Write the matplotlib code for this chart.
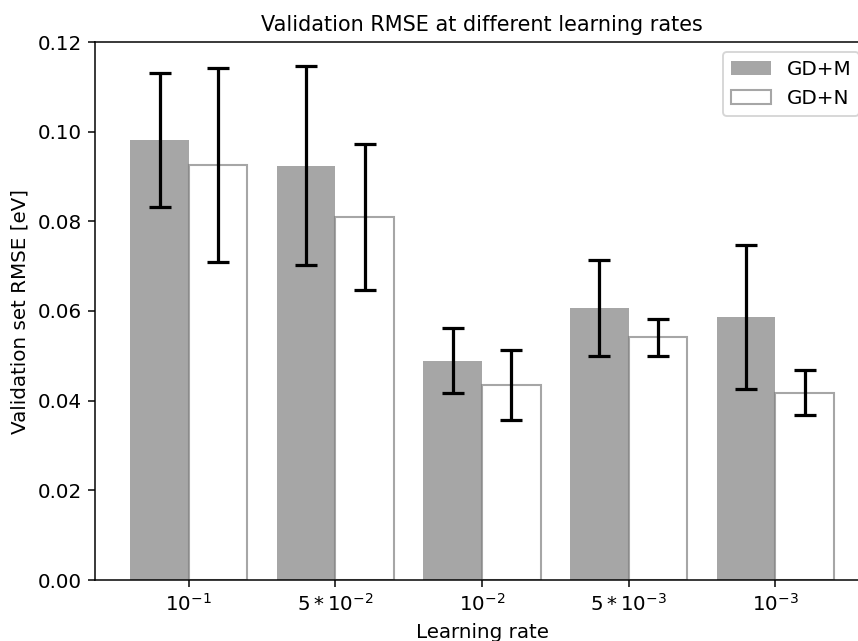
import numpy as np
import matplotlib
matplotlib.use('Agg')
import matplotlib.pyplot as plt

# learning rates (tick labels)
rates = [r'$10^{-1}$', r'$5*10^{-2}$', r'$10^{-2}$', r'$5*10^{-3}$', r'$10^{-3}$']

# GD+M
rmse_m = [0.0981, 0.0924, 0.0489, 0.0606, 0.0587]
err_m = [0.0149, 0.0222, 0.0073, 0.0107, 0.0160]

# GD+N
rmse_n = [0.0926, 0.0810, 0.0435, 0.0541, 0.0418]
err_n = [0.0217, 0.0163, 0.0079, 0.0041, 0.0051]

plt.rcParams['font.size'] = 10.5

dpi = 136
fig = plt.figure(figsize=(858/dpi, 641/dpi), dpi=dpi)
ax = fig.add_axes([95/858, 61/641, 774/858, 538/641])

x = np.arange(len(rates))
w = 0.4

ax.bar(x - w/2, rmse_m, w, color='gray', alpha=0.7, linewidth=0, label='GD+M')
ax.bar(x + w/2, rmse_n, w, fill=False, edgecolor='gray', alpha=0.7, linewidth=1.1, label='GD+N')
ax.errorbar(x - w/2, rmse_m, yerr=err_m, fmt='none', ecolor='k', elinewidth=1.7, capsize=5.8, capthick=1.7)
ax.errorbar(x + w/2, rmse_n, yerr=err_n, fmt='none', ecolor='k', elinewidth=1.7, capsize=5.8, capthick=1.7)

ax.set_xticks(x)
ax.set_xticklabels(rates)
ax.set_ylim(0, 0.12)
ax.set_xlabel('Learning rate')
ax.set_ylabel('Validation set RMSE [eV]')
ax.set_title('Validation RMSE at different learning rates', fontsize=11)
ax.legend(loc='upper right')

fig.savefig('out.png', dpi=dpi)
